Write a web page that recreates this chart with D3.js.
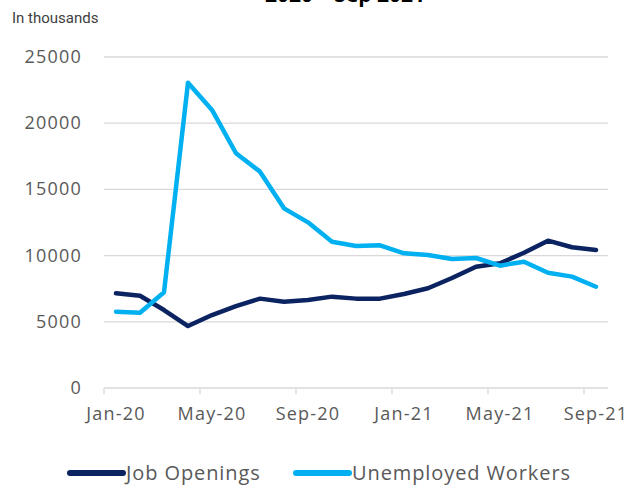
<!DOCTYPE html>
<html lang="en">

<head>
  <meta charset="UTF-8" />
  <script src="https://cdn.jsdelivr.net/npm/d3@7/dist/d3.min.js"></script>
  <title>Job openings vs unemployed</title>
  <style>
    body { margin: 0; background: #fff; }
    text { font-family: "Open Sans", "Lato", sans-serif; }
  </style>
</head>

<body>
  <svg width="630" height="485"></svg>
  <script>
    // monthly, Jan 2020 - Sep 2021, in thousands
    const months = ["Jan-20", "Feb-20", "Mar-20", "Apr-20", "May-20", "Jun-20", "Jul-20", "Aug-20", "Sep-20", "Oct-20", "Nov-20", "Dec-20",
      "Jan-21", "Feb-21", "Mar-21", "Apr-21", "May-21", "Jun-21", "Jul-21", "Aug-21", "Sep-21"];
    const jobOpenings = [7150, 6970, 5890, 4680, 5510, 6190, 6750, 6520, 6650, 6900, 6750, 6750,
      7100, 7530, 8310, 9160, 9420, 10220, 11130, 10630, 10420];
    const unemployed = [5760, 5690, 7230, 23060, 21000, 17730, 16340, 13570, 12510, 11050, 10730, 10780,
      10170, 10050, 9740, 9820, 9240, 9540, 8710, 8410, 7650];
    const yTicks = [0, 5000, 10000, 15000, 20000, 25000];
    const xLabels = ["Jan-20", "May-20", "Sep-20", "Jan-21", "May-21", "Sep-21"];
    const seriesNames = ["Job Openings", "Unemployed Workers"];
    const colors = ["#0b2361", "#00b0f0"];

    const svg = d3.select("svg");
    const plotL = 104, plotR = 608, plotT = 57, plotB = 388;

    const x = d3.scaleBand().domain(months).range([plotL, plotR]);
    const y = d3.scaleLinear().domain([0, 25000]).range([plotB, plotT]);

    // title sits mostly above the visible area
    svg.append("text")
      .attr("x", 345).attr("y", 1.5)
      .attr("text-anchor", "middle")
      .style("font-size", "21px").style("font-weight", "bold")
      .attr("fill", "#000")
      .text("2020 – Sep 2021");

    svg.append("text")
      .attr("x", 12).attr("y", 23)
      .style("font-family", "Roboto, sans-serif")
      .style("font-size", "15px")
      .attr("fill", "#404040")
      .text("In thousands");

    // gridlines
    svg.append("g").selectAll("line")
      .data(yTicks.slice(1))
      .enter().append("line")
      .attr("x1", plotL).attr("x2", plotR)
      .attr("y1", d => y(d)).attr("y2", d => y(d))
      .attr("stroke", "#d9d9d9").attr("stroke-width", 1.3);

    svg.append("g").selectAll("text")
      .data(yTicks)
      .enter().append("text")
      .attr("x", 82).attr("y", d => y(d) + 6)
      .attr("text-anchor", "end")
      .attr("fill", "#595959")
      .style("font-size", "18px")
      .style("letter-spacing", "1.2px")
      .text(d => d);

    // x axis line + ticks between categories
    svg.append("line")
      .attr("x1", plotL).attr("x2", plotR)
      .attr("y1", plotB).attr("y2", plotB)
      .attr("stroke", "#d9d9d9").attr("stroke-width", 1.3);
    svg.append("g").selectAll("line")
      .data(d3.range(0, months.length, 4))
      .enter().append("line")
      .attr("x1", i => x(months[i])).attr("x2", i => x(months[i]))
      .attr("y1", plotB).attr("y2", plotB + 6)
      .attr("stroke", "#d9d9d9").attr("stroke-width", 1.3);

    svg.append("g").selectAll("text")
      .data(xLabels)
      .enter().append("text")
      .attr("x", d => x(d) + x.bandwidth() / 2)
      .attr("y", 420)
      .attr("text-anchor", "middle")
      .attr("fill", "#595959")
      .style("font-size", "18px")
      .style("letter-spacing", "1.2px")
      .text(d => d);

    const line = d3.line()
      .x((d, i) => x(months[i]) + x.bandwidth() / 2)
      .y(d => y(d));

    [jobOpenings, unemployed].forEach((s, k) => {
      svg.append("path")
        .datum(s)
        .attr("d", line)
        .attr("fill", "none")
        .attr("stroke", colors[k])
        .attr("stroke-width", 4.5)
        .attr("stroke-linejoin", "round")
        .attr("stroke-linecap", "round");
    });

    // legend
    const legX = [70, 296];
    seriesNames.forEach((name, k) => {
      svg.append("line")
        .attr("x1", legX[k]).attr("x2", legX[k] + 53)
        .attr("y1", 473).attr("y2", 473)
        .attr("stroke", colors[k]).attr("stroke-width", 6)
        .attr("stroke-linecap", "round");
      svg.append("text")
        .attr("x", legX[k] + 56).attr("y", 480)
        .attr("fill", "#595959")
        .style("font-size", "20px")
        .style("letter-spacing", "0.9px")
        .text(name);
    });
  </script>
</body>

</html>
